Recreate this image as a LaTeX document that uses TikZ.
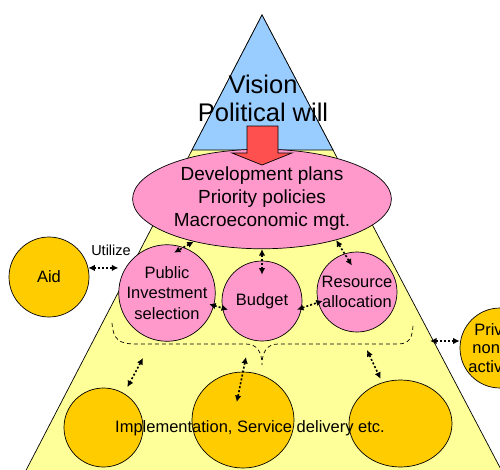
\documentclass[tikz,border=0pt]{standalone}
\usepackage{fontspec}
\setmainfont{Liberation Sans}
\usetikzlibrary{arrows.meta,shapes.geometric}

\definecolor{visionblue}{HTML}{99CCFF}
\definecolor{baseyellow}{HTML}{FFFF99}
\definecolor{policypink}{HTML}{FF99CC}
\definecolor{actorgold}{HTML}{FFCC00}
\definecolor{pushred}{HTML}{FF5050}

\tikzset{
  pinkball/.style={circle, draw=black, line width=0.7pt, fill=policypink,
    minimum size=80pt, inner sep=0pt, align=center,
    font=\fontsize{16.5}{20.5}\selectfont},
  goldball/.style={pinkball, fill=actorgold},
  goldegg/.style={ellipse, draw=black, line width=0.7pt, fill=actorgold, inner sep=0pt},
  link/.style={{Latex[length=6.5pt,width=6.5pt]}-{Latex[length=6.5pt,width=6.5pt]},
    line width=1.6pt, dash pattern=on 2pt off 2pt},
}

\begin{document}
\begin{tikzpicture}[x=1pt, y=-1pt]

    % Fix the frame
    \useasboundingbox (0,0) rectangle (500,469);
    \clip (0,0) rectangle (500,469);

    % Define the corners of the pyramid
    \coordinate (top) at (262,15);
    \coordinate (topL) at (192,150);
    \coordinate (topR) at (333,150);
    \coordinate (baseL) at (21.5,479);
    \coordinate (baseR) at (506,479);

    % Draw the pyramid and its tip
    \draw[line width=0.7pt, fill=baseyellow] (top) -- (baseL) -- (baseR) -- cycle;
    \draw[line width=0.7pt, fill=visionblue] (top) -- (topL) -- (topR) -- cycle;
    \node[align=center, font=\fontsize{25.5}{28}\selectfont] (vision) at (263,98) {Vision\\Political will};

    % Plans ellipse
    \node[ellipse, draw=black, line width=0.7pt, fill=policypink,
      minimum width=255pt, minimum height=92pt, align=center,
      font=\fontsize{19}{23}\selectfont] (plans) at (262,199)
      {Development plans\\Priority policies\\Macroeconomic mgt.};

    % Red arrow down into the plans
    \draw[line width=0.7pt, fill=pushred] (247,126) -- (278,126) -- (278,153)
      -- (292,153) -- (262,165) -- (232,153) -- (247,153) -- cycle;

    % Circles of the middle row
    \node[goldball] (aid) at (49,277) {Aid};
    \node[pinkball] (public) at (167,293) {Public\\Investment\\selection};
    \node[pinkball] (budget) at (262,301) {Budget};
    \node[pinkball] (resource) at (357,292) {Resource\\allocation};
    \node[goldball, font=\fontsize{16.5}{18.5}\selectfont] (private) at (500,348)
      {Private\\non-aid\\activities};
    \node[font=\fontsize{14.5}{17}\selectfont] (utilize) at (111,250) {Utilize};

    % Dashed brace
    \draw[line width=0.7pt, dash pattern=on 4pt off 3pt]
      (112,323) .. controls (113,340) and (120,344) .. (135,344) -- (246,344)
      .. controls (257,344) and (262,352) .. (262,365)
      .. controls (262,352) and (267,344) .. (278,344) -- (398,344)
      .. controls (409,344) and (413,338) .. (413,323);

    % Bottom row
    \node[goldegg, minimum width=79pt, minimum height=79pt] (implL) at (103.5,427.5) {};
    \node[goldegg, minimum width=102pt, minimum height=96pt] (implM) at (243,420) {};
    \node[goldegg, minimum width=103pt, minimum height=87pt] (implR) at (400.5,423.5) {};
    \node[font=\fontsize{16.5}{20}\selectfont] (impl) at (250,428)
      {Implementation, Service delivery etc.};

    % Free ends of the lower arrows
    \coordinate (braceL) at (143,358);
    \coordinate (braceM) at (246,357);
    \coordinate (braceR) at (367,350);
    \coordinate (edgeR) at (430,341);

    % Dotted links
    \draw[link] (aid.13) -- (aid.13 -| public.west);
    \draw[link, shorten >=-11pt] (plans.212) -- (public.70);
    \draw[link, shorten >=-14pt] (plans.south) -- (budget.north);
    \draw[link, shorten >=-14pt] (plans.331) -- (resource.108);
    \draw[link, shorten <=-5pt, shorten >=-6pt] (public.345) -- (budget.190);
    \draw[link, shorten <=-5pt, shorten >=-5pt] (budget.350) -- (resource.195);
    \draw[link, shorten >=7pt] (braceL) -- (implL.59);
    \draw[link, shorten >=-31pt] (braceM) -- (implM.north);
    \draw[link, shorten >=4pt] (braceR) -- (implR.114);
    \draw[link] (edgeR) -- (edgeR -| private.west);

\end{tikzpicture}
\end{document}
